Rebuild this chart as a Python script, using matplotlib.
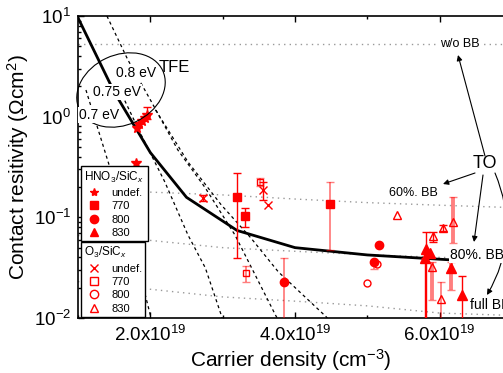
import numpy as np
import matplotlib.pyplot as plt
from matplotlib.patches import Ellipse
from matplotlib.lines import Line2D
from matplotlib.transforms import IdentityTransform
import matplotlib.ticker as ticker

plt.rcParams['font.family'] = ['Liberation Sans', 'DejaVu Sans']
plt.rcParams['mathtext.fontset'] = 'custom'
plt.rcParams['mathtext.rm'] = 'Liberation Sans'
plt.rcParams['mathtext.it'] = 'Liberation Sans:italic'
plt.rcParams['mathtext.bf'] = 'Liberation Sans:bold'

E19 = 1e19

################################################################################
# model curves (x in 1e19 cm^-3)
################################################################################
fit_x = [1.0, 1.5, 2.0, 2.5, 3.2, 4.0, 5.0, 6.15]
fit_y = [9.6, 1.76, 0.44, 0.158, 0.074, 0.050, 0.0423, 0.0378]

tfe07_x = [1.11, 1.28, 1.46, 1.60, 1.79, 2.00, 2.03]
tfe07_y = [1.84, 0.738, 0.282, 0.133, 0.0423, 0.0107, 0.008]
tfe075_x = [1.61, 1.86, 2.20, 2.52, 2.76, 2.98, 3.02]
tfe075_y = [1.64, 0.689, 0.225, 0.0668, 0.0315, 0.0107, 0.0085]
tfe08_x = [1.40, 1.69, 2.00, 2.38, 2.76, 3.17, 3.73, 3.76]
tfe08_y = [10.0, 3.66, 1.47, 0.467, 0.196, 0.0668, 0.0107, 0.0098]
tfe085_x = [2.07, 2.22, 2.52, 2.98, 3.39, 3.77, 4.43, 4.49]
tfe085_y = [1.17, 0.79, 0.355, 0.133, 0.0624, 0.0287, 0.0103, 0.0091]

to_x = [1.0, 2.0, 3.0, 4.0, 5.0, 6.0, 7.0]
to_nobb = [5.3, 5.3, 5.3, 5.3, 5.3, 5.3, 5.3]
to_60 = [0.19, 0.178, 0.167, 0.152, 0.140, 0.132, 0.125]
to_80 = [0.066, 0.059, 0.050, 0.046, 0.0425, 0.040, 0.039]
to_full = [0.023, 0.0193, 0.0162, 0.0147, 0.0132, 0.0112, 0.0106]

################################################################################
# measured data: x, y, lower, upper
################################################################################
hno3_undef_x = [1.81, 1.85, 1.88, 1.92, 1.95, 1.80]
hno3_undef_y = [0.78, 0.84, 0.90, 0.96, 1.04, 0.35]
hno3_undef_lo = [0.78, 0.84, 0.90, 0.96, 0.95, 0.35]
hno3_undef_hi = [0.78, 0.84, 0.90, 0.96, 1.25, 0.35]

hno3_770_x = [3.20, 3.31, 4.49]
hno3_770_y = [0.160, 0.103, 0.136]
hno3_770_lo = [0.0395, 0.080, 0.0475]
hno3_770_hi = [0.276, 0.123, 0.225]

hno3_800_x = [3.85, 5.16, 5.09]
hno3_800_y = [0.0228, 0.0532, 0.036]
hno3_800_lo = [0.005, 0.0532, 0.0307]
hno3_800_hi = [0.0395, 0.0532, 0.036]

hno3_830_x = [5.81, 5.86, 5.80, 6.16, 6.31]
hno3_830_y = [0.0485, 0.0443, 0.0395, 0.0315, 0.0169]
hno3_830_lo = [0.005, 0.0443, 0.005, 0.019, 0.005]
hno3_830_hi = [0.0716, 0.0443, 0.0395, 0.036, 0.0262]

o3_undef_x = [2.73, 3.56, 3.63]
o3_undef_y = [0.156, 0.187, 0.133]
o3_undef_lo = [0.146, 0.148, 0.133]
o3_undef_hi = [0.167, 0.226, 0.133]

o3_770_x = [3.52, 3.32]
o3_770_y = [0.225, 0.028]
o3_770_lo = [0.205, 0.0228]
o3_770_hi = [0.245, 0.0329]

o3_800_x = [5.13, 4.99]
o3_800_y = [0.034, 0.0223]
o3_800_lo = [0.034, 0.0223]
o3_800_hi = [0.034, 0.0223]

o3_830_x = [6.19, 6.05, 5.91, 5.90, 6.02, 5.41]
o3_830_y = [0.090, 0.0785, 0.0653, 0.0322, 0.0155, 0.106]
o3_830_lo = [0.0557, 0.073, 0.057, 0.0151, 0.005, 0.106]
o3_830_hi = [0.16, 0.083, 0.072, 0.036, 0.0228, 0.106]

# which error bars are drawn pale (0 = solid red, 1 = thin pale, 2 = thick pale)
hno3_undef_pale = [0, 0, 0, 0, 0, 0]
hno3_770_pale = [0, 0, 1]
hno3_800_pale = [1, 0, 1]
hno3_830_pale = [0, 0, 0, 2, 0]
o3_undef_pale = [0, 0, 0]
o3_770_pale = [1, 1]
o3_800_pale = [0, 0]
o3_830_pale = [2, 0, 0, 2, 1, 0]

red = '#ff0000'

fig = plt.figure(figsize=(5.03, 3.73), dpi=100)
ax = fig.add_axes([78/503., 55/373., 434/503., 302/373.])

# TO lines (dotted)
for yy in [to_nobb, to_60, to_80, to_full]:
    ax.plot(np.array(to_x)*E19, yy, color='#999999', lw=1.0, ls=(0, (1, 3)), zorder=1)

# TFE lines (dashed)
for xx, yy in [(tfe07_x, tfe07_y), (tfe075_x, tfe075_y), (tfe08_x, tfe08_y), (tfe085_x, tfe085_y)]:
    ax.plot(np.array(xx)*E19, yy, color='k', lw=0.9, ls=(0, (2.5, 2.5)), zorder=1)

# fit line
ax.plot(np.array(fit_x)*E19, fit_y, color='k', lw=2.0, zorder=2)

def draw(xs, ys, lo, hi, pale, marker, filled, ms):
    xs = np.array(xs)*E19
    for i in range(len(xs)):
        if hi[i] > lo[i]:
            if pale[i] == 0:
                c, a, w = red, 1.0, 1.0
            elif pale[i] == 1:
                c, a, w = red, 0.5, 1.3
            else:
                c, a, w = red, 0.5, 2.8
            ax.errorbar(xs[i], ys[i], yerr=[[ys[i]-lo[i]], [hi[i]-ys[i]]], fmt='none',
                        ecolor=c, alpha=a, elinewidth=w, capsize=3, capthick=1.0, zorder=3)
    ax.plot(xs, ys, ls='none', marker=marker, ms=ms, mec=red,
            mfc=red if filled else 'none', mew=1.0, zorder=4)

draw(hno3_undef_x, hno3_undef_y, hno3_undef_lo, hno3_undef_hi, hno3_undef_pale, '*', True, 7)
draw(hno3_770_x, hno3_770_y, hno3_770_lo, hno3_770_hi, hno3_770_pale, 's', True, 6)
draw(hno3_800_x, hno3_800_y, hno3_800_lo, hno3_800_hi, hno3_800_pale, 'o', True, 6)
draw(hno3_830_x, hno3_830_y, hno3_830_lo, hno3_830_hi, hno3_830_pale, '^', True, 6.5)
draw(o3_undef_x, o3_undef_y, o3_undef_lo, o3_undef_hi, o3_undef_pale, 'x', False, 6)
draw(o3_770_x, o3_770_y, o3_770_lo, o3_770_hi, o3_770_pale, 's', False, 5)
draw(o3_800_x, o3_800_y, o3_800_lo, o3_800_hi, o3_800_pale, 'o', False, 5)
draw(o3_830_x, o3_830_y, o3_830_lo, o3_830_hi, o3_830_pale, '^', False, 6)

ax.set_yscale('log')
ax.set_xlim(1.0*E19, 7.0*E19)
ax.set_ylim(1e-2, 1e1)

ax.xaxis.set_major_locator(ticker.FixedLocator([2*E19, 4*E19, 6*E19]))
ax.xaxis.set_minor_locator(ticker.FixedLocator([1*E19, 3*E19, 5*E19, 7*E19]))
ax.xaxis.set_major_formatter(ticker.FuncFormatter(lambda v, p: r'%.1fx10$^{19}$' % (v/E19)))
ax.tick_params(which='both', direction='in', top=True, right=True, width=1.0, labelsize=13.5)
ax.tick_params(which='major', length=4, pad=5)
ax.tick_params(which='minor', length=2.5)
for s in ax.spines.values():
    s.set_linewidth(1.2)

ax.set_xlabel(r'Carrier density (cm$^{-3}$)', fontsize=15)
ax.xaxis.set_label_coords(0.49, -0.097)
ax.set_ylabel(r'Contact resitivity ($\Omega$cm$^2$)', fontsize=15, labelpad=2)

# legends
def handles(markers, fills):
    return [Line2D([], [], ls='none', marker=m, ms=6, mec=red, mfc=red if f else 'none', mew=1.0)
            for m, f in zip(markers, fills)]

names = ['undef.', '770', '800', '830']
leg1 = ax.legend(handles(['*', 's', 'o', '^'], [1, 1, 1, 1]), names,
                 title=r'HNO$_3$/SiC$_x$', loc='upper left', bbox_to_anchor=(0.007, 0.503),
                 borderaxespad=0, fontsize=8, title_fontsize=8.5, fancybox=False,
                 edgecolor='k', framealpha=1, labelspacing=0.3, handletextpad=0.7,
                 handlelength=1.7, borderpad=0.3, alignment='left')
leg1.get_frame().set_linewidth(1.0)
ax.add_artist(leg1)
leg2 = ax.legend(handles(['x', 's', 'o', '^'], [0, 0, 0, 0]), names,
                 title=r'O$_3$/SiC$_x$', loc='upper left', bbox_to_anchor=(0.007, 0.252),
                 borderaxespad=0, fontsize=8, title_fontsize=8.5, fancybox=False,
                 edgecolor='k', framealpha=1, labelspacing=0.3, handletextpad=0.7,
                 handlelength=1.7, borderpad=0.3, alignment='left')
leg2.get_frame().set_linewidth(1.0)

# annotations (figure pixels, origin bottom-left)
wb = dict(facecolor='white', edgecolor='none', pad=0.5)
idt = IdentityTransform()
fig.text(460, 329, 'w/o BB', fontsize=9, ha='center', va='center', transform=idt, bbox=wb)
fig.text(413, 180, '60%. BB', fontsize=9, ha='center', va='center', transform=idt, bbox=wb)
fig.text(450, 118, '80%. BB', fontsize=10, ha='left', va='center', transform=idt, bbox=wb)
fig.text(470, 68, 'full BB', fontsize=10, ha='left', va='center', transform=idt, bbox=wb)
fig.text(485, 210, 'TO', fontsize=13, ha='center', va='center', transform=idt)
fig.text(174, 306, 'TFE', fontsize=12, ha='center', va='center', transform=idt)
fig.text(136, 300, '0.8 eV', fontsize=10, ha='center', va='center', transform=idt, bbox=wb)
fig.text(117, 281, '0.75 eV', fontsize=10, ha='center', va='center', transform=idt, bbox=wb)
fig.text(99, 258, '0.7 eV', fontsize=10, ha='center', va='center', transform=idt, bbox=wb)

el = Ellipse((121, 283), 92, 70, angle=25, transform=idt,
             facecolor='none', edgecolor='k', lw=0.8)
fig.add_artist(el)

ap = dict(arrowstyle='-|>', color='k', lw=0.8, mutation_scale=8, shrinkA=0, shrinkB=0)
for start, end, rad in [((485, 217), (458, 318), 0), ((475, 200), (443, 189), 0),
                        ((483, 198), (474, 131), 0), ((495, 200), (487, 78), -0.25)]:
    p = dict(ap)
    p['connectionstyle'] = 'arc3,rad=%g' % rad
    ax.annotate('', xy=end, xycoords='figure pixels', xytext=start,
                textcoords='figure pixels', arrowprops=p, annotation_clip=False)

fig.savefig('out.png', dpi=100)
